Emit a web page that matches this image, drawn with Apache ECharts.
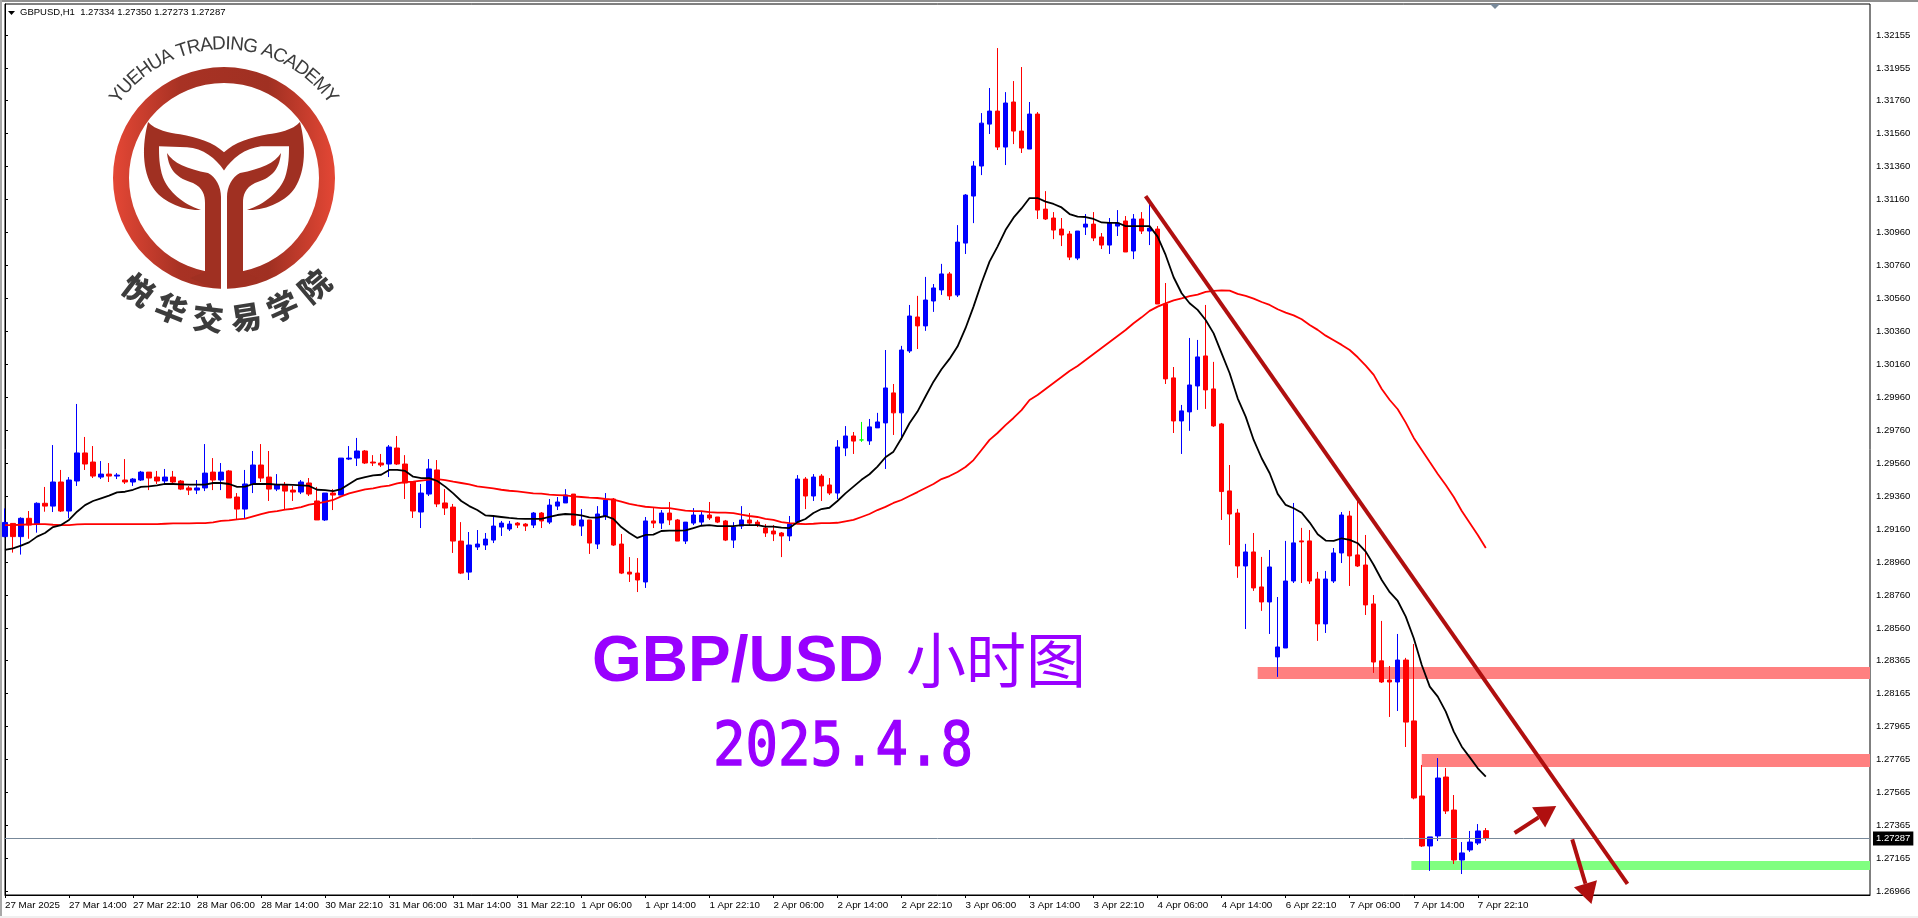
<!DOCTYPE html>
<html lang="en">
<head>
    <meta charset="UTF-8">
    <title>GBPUSD,H1</title>
    <script src="https://cdn.jsdelivr.net/npm/echarts@6/dist/echarts.min.js"></script>
    <style>
        html, body { margin: 0; padding: 0; background: #fff; overflow: hidden; }
        #chart { width: 1918px; height: 918px; }
    </style>
</head>
<body>
    <div id="chart"></div>
<script>
    var tickLabels = ['27 Mar 2025','27 Mar 14:00','27 Mar 22:10','28 Mar 06:00','28 Mar 14:00','30 Mar 22:10','31 Mar 06:00','31 Mar 14:00','31 Mar 22:10','1 Apr 06:00','1 Apr 14:00','1 Apr 22:10','2 Apr 06:00','2 Apr 14:00','2 Apr 22:10','3 Apr 06:00','3 Apr 14:00','3 Apr 22:10','4 Apr 06:00','4 Apr 14:00','6 Apr 22:10','7 Apr 06:00','7 Apr 14:00','7 Apr 22:10'];
    var priceTicks = [1.32155,1.31955,1.31760,1.31560,1.31360,1.31160,1.30960,1.30760,1.30560,1.30360,1.30160,1.29960,1.29760,1.29560,1.29360,1.29160,1.28960,1.28760,1.28560,1.28365,1.28165,1.27965,1.27765,1.27565,1.27365,1.27165,1.26966];
    var lastPrice = 1.27287;

    var opens = [
        1.29116,1.29196,1.29116,1.29227,1.29192,1.29318,1.29301,1.29447,1.29271,1.29453,
        1.29623,1.29568,1.29477,1.29495,1.29483,1.29459,1.29447,1.29459,1.29507,1.29477,
        1.29453,1.29477,1.29453,1.29411,1.29398,1.29411,1.29507,1.29459,1.29514,1.29356,
        1.29283,1.29435,1.29550,1.29477,1.29404,1.29429,1.29398,1.29386,1.29441,1.29332,
        1.29217,1.29380,1.29368,1.29586,1.29592,1.29635,1.29568,1.29562,1.29556,1.29653,
        1.29556,1.29447,1.29265,1.29374,1.29520,1.29320,1.29295,1.29089,1.28901,1.29053,
        1.29065,1.29095,1.29174,1.29162,1.29198,1.29192,1.29186,1.29259,1.29204,1.29301,
        1.29320,1.29374,1.29180,1.29217,1.29071,1.29241,1.29344,1.29071,1.28901,1.28895,
        1.28841,1.29211,1.29198,1.29259,1.29217,1.29089,1.29198,1.29204,1.29247,1.29235,
        1.29211,1.29095,1.29180,1.29217,1.29204,1.29168,1.29150,1.29138,1.29120,1.29204,
        1.29465,1.29362,1.29483,1.29429,1.29380,1.29653,1.29726,1.29702,1.29696,1.29775,
        1.29805,1.29987,1.29866,1.30241,1.30447,1.30393,1.30544,1.30611,1.30708,1.30580,
        1.30895,1.31180,1.31362,1.31616,1.31695,1.31477,1.31750,1.31574,1.31465,1.31677,
        1.31101,1.31047,1.30980,1.30950,1.30804,1.30992,1.31010,1.30932,1.30883,1.30998,
        1.31029,1.30847,1.31041,1.30968,1.30980,1.30526,1.30078,1.29817,1.29872,1.30029,
        1.30211,1.30011,1.29799,1.29393,1.29259,1.28938,1.29023,1.28811,1.28720,1.28387,
        1.28441,1.28847,1.29090,1.29090,1.28859,1.28587,1.28847,1.29017,1.29241,1.29005,
        1.28944,1.28708,1.28363,1.28247,1.28235,1.28368,1.27999,1.27544,1.27241,1.27302,
        1.27659,1.27459,1.27156,1.27217,1.27259,1.27334
    ];
    var closes = [
        1.29202,1.29116,1.29227,1.29186,1.29318,1.29301,1.29447,1.29271,1.29459,1.29623,
        1.29556,1.29483,1.29495,1.29483,1.29489,1.29447,1.29465,1.29507,1.29471,1.29453,
        1.29477,1.29447,1.29404,1.29398,1.29411,1.29501,1.29459,1.29507,1.29350,1.29283,
        1.29435,1.29550,1.29471,1.29404,1.29429,1.29392,1.29386,1.29447,1.29374,1.29217,
        1.29380,1.29368,1.29592,1.29592,1.29635,1.29562,1.29562,1.29550,1.29659,1.29556,
        1.29441,1.29271,1.29380,1.29526,1.29314,1.29289,1.29089,1.28895,1.29065,1.29071,
        1.29101,1.29180,1.29198,1.29192,1.29186,1.29180,1.29259,1.29211,1.29307,1.29326,
        1.29368,1.29186,1.29217,1.29077,1.29253,1.29338,1.29065,1.28895,1.28889,1.28853,
        1.29211,1.29198,1.29259,1.29217,1.29089,1.29204,1.29247,1.29247,1.29229,1.29204,
        1.29095,1.29174,1.29217,1.29198,1.29186,1.29138,1.29132,1.29120,1.29192,1.29465,
        1.29362,1.29477,1.29423,1.29380,1.29659,1.29726,1.29695,1.29702,1.29781,1.29811,
        1.30017,1.29866,1.30247,1.30453,1.30393,1.30550,1.30623,1.30708,1.30575,1.30901,
        1.31186,1.31362,1.31622,1.31695,1.31477,1.31744,1.31574,1.31471,1.31677,1.31095,
        1.31041,1.30974,1.30944,1.30810,1.30968,1.31010,1.30926,1.30883,1.31016,1.31016,
        1.30841,1.31041,1.30968,1.30986,1.30526,1.30072,1.29817,1.29878,1.30035,1.30205,
        1.30005,1.29787,1.29389,1.29253,1.28938,1.29023,1.28805,1.28720,1.28932,1.28447,
        1.28847,1.29078,1.29084,1.28847,1.28587,1.28859,1.29017,1.29247,1.28999,1.28938,
        1.28702,1.28356,1.28235,1.28235,1.28368,1.27992,1.27532,1.27241,1.27296,1.27653,
        1.27453,1.27156,1.27199,1.27265,1.27332,1.27287
    ];
    var highs = [
        1.29287,1.29196,1.29233,1.29271,1.29324,1.29417,1.29671,1.29520,1.29477,1.29920,
        1.29720,1.29665,1.29574,1.29562,1.29501,1.29586,1.29471,1.29514,1.29507,1.29514,
        1.29526,1.29514,1.29459,1.29423,1.29459,1.29677,1.29592,1.29562,1.29520,1.29380,
        1.29520,1.29635,1.29677,1.29635,1.29495,1.29447,1.29423,1.29459,1.29471,1.29417,
        1.29380,1.29404,1.29592,1.29665,1.29714,1.29641,1.29610,1.29617,1.29671,1.29726,
        1.29610,1.29447,1.29435,1.29586,1.29580,1.29404,1.29314,1.29204,1.29144,1.29156,
        1.29138,1.29235,1.29211,1.29211,1.29204,1.29198,1.29265,1.29265,1.29344,1.29356,
        1.29404,1.29374,1.29283,1.29217,1.29301,1.29380,1.29350,1.29132,1.28992,1.28986,
        1.29235,1.29289,1.29277,1.29326,1.29223,1.29204,1.29289,1.29271,1.29326,1.29235,
        1.29217,1.29204,1.29301,1.29259,1.29217,1.29192,1.29186,1.29144,1.29241,1.29489,
        1.29477,1.29495,1.29495,1.29471,1.29701,1.29786,1.29750,1.29811,1.29829,1.29866,
        1.30247,1.30041,1.30272,1.30520,1.30575,1.30690,1.30647,1.30769,1.30720,1.31004,
        1.31192,1.31392,1.31683,1.31835,1.32077,1.31810,1.31877,1.31962,1.31750,1.31689,
        1.31210,1.31083,1.31047,1.30968,1.30968,1.31071,1.31083,1.30956,1.31047,1.31095,
        1.31059,1.31071,1.31083,1.31132,1.30998,1.30653,1.30144,1.29914,1.30320,1.30308,
        1.30520,1.30175,1.29805,1.29550,1.29284,1.29072,1.29138,1.28993,1.29035,1.28750,
        1.29090,1.29320,1.29169,1.29156,1.28902,1.28908,1.29047,1.29265,1.29272,1.29338,
        1.29126,1.28762,1.28605,1.28332,1.28526,1.28381,1.28465,1.27732,1.27296,1.27774,
        1.27714,1.27550,1.27265,1.27332,1.27374,1.27350
    ];
    var lows = [
        1.29112,1.29019,1.29007,1.29103,1.29140,1.29267,1.29265,1.29265,1.29227,1.29423,
        1.29520,1.29471,1.29465,1.29447,1.29465,1.29435,1.29423,1.29453,1.29398,1.29435,
        1.29435,1.29429,1.29398,1.29368,1.29374,1.29392,1.29398,1.29398,1.29350,1.29223,
        1.29229,1.29380,1.29447,1.29332,1.29392,1.29283,1.29332,1.29374,1.29362,1.29217,
        1.29211,1.29277,1.29368,1.29580,1.29544,1.29556,1.29544,1.29538,1.29477,1.29550,
        1.29344,1.29229,1.29168,1.29362,1.29295,1.29247,1.29017,1.28889,1.28853,1.29035,
        1.29035,1.29077,1.29120,1.29150,1.29168,1.29150,1.29168,1.29168,1.29192,1.29277,
        1.29320,1.29180,1.29120,1.29011,1.29041,1.29217,1.29059,1.28889,1.28841,1.28780,
        1.28805,1.29168,1.29162,1.29186,1.29089,1.29071,1.29186,1.29186,1.29217,1.29198,
        1.29089,1.29047,1.29162,1.29186,1.29174,1.29114,1.29089,1.28992,1.29089,1.29192,
        1.29283,1.29332,1.29332,1.29368,1.29344,1.29604,1.29617,1.29690,1.29672,1.29775,
        1.29526,1.29732,1.29702,1.30229,1.30253,1.30363,1.30478,1.30581,1.30550,1.30568,
        1.30829,1.31016,1.31307,1.31556,1.31459,1.31368,1.31495,1.31441,1.31465,1.31041,
        1.31035,1.30919,1.30877,1.30792,1.30792,1.30944,1.30907,1.30859,1.30829,1.30938,
        1.30841,1.30798,1.30950,1.30883,1.30526,1.30041,1.29744,1.29617,1.29757,1.29884,
        1.29890,1.29781,1.29217,1.29065,1.28866,1.28556,1.28787,1.28666,1.28526,1.28266,
        1.28441,1.28835,1.28835,1.28829,1.28484,1.28532,1.28835,1.28956,1.28817,1.28932,
        1.28641,1.28290,1.28229,1.28023,1.28059,1.27841,1.27524,1.27235,1.27090,1.27271,
        1.27435,1.27132,1.27071,1.27205,1.27247,1.27273
    ];
    var blackMa = [
        1.29035,1.29045,1.29061,1.29081,1.29116,1.29138,1.29174,1.29186,1.29217,1.29267,
        1.29307,1.29332,1.29348,1.29364,1.29384,1.29388,1.29400,1.29417,1.29421,1.29427,
        1.29435,1.29435,1.29433,1.29431,1.29431,1.29431,1.29441,1.29441,1.29435,1.29417,
        1.29419,1.29435,1.29435,1.29435,1.29431,1.29431,1.29429,1.29427,1.29423,1.29400,
        1.29398,1.29392,1.29404,1.29435,1.29465,1.29477,1.29487,1.29491,1.29520,1.29520,
        1.29514,1.29479,1.29471,1.29471,1.29453,1.29419,1.29378,1.29332,1.29301,1.29277,
        1.29245,1.29241,1.29235,1.29229,1.29225,1.29223,1.29223,1.29223,1.29235,1.29247,
        1.29253,1.29251,1.29245,1.29233,1.29231,1.29241,1.29223,1.29174,1.29138,1.29108,
        1.29126,1.29128,1.29150,1.29152,1.29152,1.29154,1.29168,1.29182,1.29186,1.29180,
        1.29180,1.29180,1.29186,1.29186,1.29186,1.29176,1.29176,1.29170,1.29168,1.29204,
        1.29223,1.29259,1.29283,1.29291,1.29332,1.29378,1.29419,1.29460,1.29494,1.29540,
        1.29597,1.29631,1.29712,1.29803,1.29874,1.29965,1.30055,1.30130,1.30193,1.30268,
        1.30379,1.30510,1.30653,1.30783,1.30874,1.30974,1.31049,1.31105,1.31168,1.31168,
        1.31146,1.31132,1.31111,1.31071,1.31055,1.31053,1.31041,1.31020,1.31018,1.31018,
        1.30998,1.30998,1.30998,1.30998,1.30934,1.30823,1.30688,1.30591,1.30530,1.30490,
        1.30429,1.30348,1.30227,1.30106,1.29954,1.29843,1.29702,1.29591,1.29500,1.29375,
        1.29308,1.29288,1.29261,1.29201,1.29130,1.29092,1.29090,1.29106,1.29096,1.29076,
        1.29025,1.28944,1.28853,1.28779,1.28726,1.28631,1.28500,1.28338,1.28207,1.28146,
        1.28055,1.27934,1.27843,1.27778,1.27712,1.27661
    ];
    var redMa = [
        1.29186,1.29186,1.29188,1.29190,1.29192,1.29192,1.29188,1.29186,1.29186,1.29190,
        1.29192,1.29192,1.29192,1.29192,1.29192,1.29192,1.29192,1.29192,1.29192,1.29192,
        1.29194,1.29196,1.29196,1.29196,1.29198,1.29198,1.29202,1.29211,1.29215,1.29221,
        1.29225,1.29239,1.29253,1.29265,1.29271,1.29279,1.29285,1.29295,1.29310,1.29318,
        1.29326,1.29338,1.29360,1.29378,1.29390,1.29402,1.29408,1.29419,1.29425,1.29439,
        1.29447,1.29449,1.29455,1.29461,1.29465,1.29459,1.29449,1.29441,1.29433,1.29421,
        1.29415,1.29408,1.29400,1.29394,1.29390,1.29384,1.29378,1.29376,1.29370,1.29368,
        1.29366,1.29360,1.29356,1.29352,1.29350,1.29344,1.29340,1.29328,1.29314,1.29305,
        1.29297,1.29293,1.29289,1.29289,1.29281,1.29273,1.29271,1.29271,1.29265,1.29261,
        1.29261,1.29259,1.29249,1.29241,1.29235,1.29223,1.29217,1.29204,1.29198,1.29194,
        1.29192,1.29194,1.29198,1.29198,1.29200,1.29209,1.29217,1.29235,1.29253,1.29277,
        1.29296,1.29320,1.29338,1.29362,1.29386,1.29411,1.29435,1.29465,1.29483,1.29508,
        1.29538,1.29580,1.29641,1.29702,1.29744,1.29792,1.29835,1.29883,1.29944,1.29974,
        1.30011,1.30047,1.30083,1.30120,1.30150,1.30186,1.30223,1.30259,1.30295,1.30332,
        1.30368,1.30409,1.30445,1.30484,1.30510,1.30530,1.30548,1.30560,1.30573,1.30583,
        1.30599,1.30605,1.30609,1.30607,1.30587,1.30575,1.30558,1.30538,1.30520,1.30494,
        1.30474,1.30457,1.30433,1.30399,1.30369,1.30334,1.30306,1.30278,1.30247,1.30203,
        1.30152,1.30096,1.30011,1.29944,1.29888,1.29807,1.29714,1.29641,1.29568,1.29496,
        1.29429,1.29356,1.29271,1.29199,1.29126,1.29047
    ];
    // bar index from, price, bar index to, price
    var trendLine = [142.5,1.31180,202.7,1.27011];
    var arrowUp = [188.6,1.27320,193.8,1.27484];
    var arrowDown = [195.8,1.27281,198.2,1.26890];
    var zoneTop = [156.5,1.28326,233,1.28253];
    var zoneMid = [177,1.27799,233,1.27720];
    var zoneLow = [175.7,1.27150,233,1.27096];

    var barCount = 234;
    var categories = [];
    for (var i = 0; i < barCount; i++) {
        categories.push(i % 8 === 0 && tickLabels[i / 8] ? tickLabels[i / 8] : '');
    }
    var candles = opens.map(function (o, i) {
        return [o, closes[i], lows[i], highs[i]];
    });

    var smallFont = '"Liberation Sans",sans-serif';
    var brick = '#a03022';
    var cx = 224, cy = 178;

    // logo shapes, drawn by a custom series because the graphic component has no path
    var logoPath = 'M148 122C155 130 170 133 180 134C197 137 214 142 224 152C234 142 251 137 268 134C278 133 293 130 300 122C306 145 306 170 295 187C287 200 265 210 247 209C265 204 280 190 285 177C289 165 289 155 289 146L261 146C245 148 232 158 224 170C216 158 203 148 187 147L159 146C159 155 159 165 163 177C168 190 183 204 201 209C183 210 161 200 153 187C142 170 142 145 148 122Z';
    var stemLeft = 'M167 153C173 163 187 169 208 173C216 177 221 187 221 197L221 280C221 285 217 288 213 288L190 278L205 272L205 203C205 195 203 188 193 183C178 178 169 172 167 153Z';
    var stemRight = 'M281 153C275 163 261 169 240 173C232 177 227 187 227 197L227 280C227 285 231 288 235 288L258 278L243 272L243 203C243 195 245 188 255 183C270 178 279 172 281 153Z';

    function pathEl(d, x, y, w, h) {
        return {type: 'path', shape: {pathData: d, x: x, y: y, width: w, height: h, layout: 'cover'}, style: {fill: brick}};
    }
    function drawLogo() {
        return {type: 'group', children: [
            {type: 'ring', shape: {cx: cx, cy: cy, r: 111, r0: 95}, style: {
                fill: new echarts.graphic.LinearGradient(0, 0, 1, 0, [
                    {offset: 0, color: '#e44735'}, {offset: 0.3, color: '#a83224'},
                    {offset: 0.7, color: '#a03022'}, {offset: 1, color: '#e44735'}
                ])
            }},
            pathEl(logoPath, 144, 122, 160, 88),
            pathEl(stemLeft, 167, 153, 54, 135),
            pathEl(stemRight, 227, 153, 54, 135),
            {type: 'rect', shape: {x: 221, y: 268, width: 6, height: 24}, style: {fill: '#fff'}}
        ]};
    }

    var graphics = [
        {type: 'rect', silent: true, shape: {x: 0, y: 0, width: 1918, height: 2}, style: {fill: '#8f8f8f'}},
        {type: 'rect', silent: true, shape: {x: 0, y: 0, width: 2, height: 916}, style: {fill: '#a8a8a8'}},
        {type: 'rect', silent: true, shape: {x: 0, y: 916, width: 1918, height: 2}, style: {fill: '#f0f0f0'}},
        {type: 'polygon', silent: true, z: 20, shape: {points: [[8, 11], [15, 11], [11.5, 15]]}, style: {fill: '#000'}},
        {type: 'polygon', silent: true, z: 20, shape: {points: [[1490, 4], [1500, 4], [1495, 9]]}, style: {fill: '#778899'}}
    ];

    // curved logo texts, one real text element per letter
    var measure = document.createElement('canvas').getContext('2d');
    var arcFont = '19px "Liberation Sans"';
    measure.font = arcFont;
    var arcText = 'YUEHUA TRADING ACADEMY';
    var arcWidth = measure.measureText(arcText).width;
    var arcSpan = 110, acc = 0;
    arcText.split('').forEach(function (ch) {
        var w = measure.measureText(ch).width;
        var rad = (-arcSpan / 2 + arcSpan * (acc + w / 2) / arcWidth) * Math.PI / 180;
        acc += w;
        graphics.push({
            type: 'text', silent: true, z: 20,
            x: cx + 134 * Math.sin(rad), y: cy - 134 * Math.cos(rad), rotation: -rad,
            style: {text: ch, font: arcFont, fill: '#3c3c3c', textAlign: 'center', textVerticalAlign: 'middle'}
        });
    });
    '悦华交易学院'.split('').forEach(function (ch, i) {
        var rad = (37.5 - i * 15.5) * Math.PI / 180;
        graphics.push({
            type: 'text', silent: true, z: 20,
            x: cx - 141 * Math.sin(rad), y: cy + 141 * Math.cos(rad), rotation: -rad,
            style: {text: ch, font: '900 31px "Noto Sans CJK SC"', fill: '#3c3c3c', textAlign: 'center', textVerticalAlign: 'middle'}
        });
    });
    graphics.push({
        type: 'text', silent: true, z: 20, x: 713, y: 749, scaleY: 1.13,
        style: {text: '2025.4.8', font: '54px "DejaVu Sans Mono"', fill: '#9900ff', stroke: '#9900ff', lineWidth: 1.2, textVerticalAlign: 'middle'}
    });

    function drawLine(params, api) {
        var a = api.coord([api.value(0), api.value(1)]);
        var b = api.coord([api.value(2), api.value(3)]);
        var head = api.value(4);
        var out = [{
            type: 'line',
            shape: {x1: a[0], y1: a[1], x2: b[0], y2: b[1]},
            style: {stroke: '#b00f0f', lineWidth: 4}
        }];
        if (head) {
            var ang = Math.atan2(b[1] - a[1], b[0] - a[0]);
            var back = [b[0] - 21 * Math.cos(ang), b[1] - 21 * Math.sin(ang)];
            out[0].shape.x2 = back[0];
            out[0].shape.y2 = back[1];
            out.push({
                type: 'polygon',
                shape: {points: [b,
                    [back[0] - 12 * Math.sin(ang), back[1] + 12 * Math.cos(ang)],
                    [back[0] + 12 * Math.sin(ang), back[1] - 12 * Math.cos(ang)]]},
                style: {fill: '#b00f0f'}
            });
        }
        return {type: 'group', children: out};
    }
    function drawZone(params, api) {
        var a = api.coord([api.value(0), api.value(1)]);
        var b = api.coord([api.value(2), api.value(3)]);
        return {
            type: 'rect',
            shape: {x: a[0], y: a[1], width: b[0] - a[0], height: b[1] - a[1]},
            style: {fill: params.dataIndex === 2 ? '#80ff80' : '#ff8080'}
        };
    }

    var chart = echarts.init(document.getElementById('chart'));
    chart.setOption({
        animation: false,
        backgroundColor: '#ffffff',
        title: [
            {text: 'GBPUSD,H1  1.27334 1.27350 1.27273 1.27287', left: 20, top: 7, padding: 0,
                textStyle: {fontFamily: smallFont, fontSize: 9.5, fontWeight: 'normal', color: '#000'}},
            {text: 'GBP/USD', left: 592, top: 631, padding: 0,
                textStyle: {fontFamily: '"Liberation Sans"', fontSize: 64, fontWeight: 'bold', color: '#9900ff'}},
            {text: '小时图', left: 906, top: 630, padding: 0,
                textStyle: {fontFamily: '"Noto Sans CJK SC"', fontSize: 60, fontWeight: 'normal', color: '#9900ff'}}
        ],
        graphic: graphics,
        grid: {left: 5, top: 4, right: 48, bottom: 23, show: true, borderColor: '#000', borderWidth: 1, backgroundColor: '#fff'},
        xAxis: [{
            type: 'category',
            data: categories,
            boundaryGap: false,
            axisLine: {lineStyle: {color: '#000'}},
            axisTick: {alignWithLabel: true, length: 3, lineStyle: {color: '#000'},
                interval: function (i) { return i % 8 === 0 && i <= 184; }},
            axisLabel: {interval: function (i) { return i % 8 === 0 && i <= 184; },
                align: 'left', margin: 5, color: '#000', fontFamily: smallFont, fontSize: 9.8,
                hideOverlap: false},
            splitLine: {show: false}
        }, {
            type: 'value', show: false, min: 0, max: barCount - 1
        }],
        yAxis: {
            type: 'value',
            position: 'right',
            min: 1.26944,
            max: 1.32344,
            axisLine: {show: true, lineStyle: {color: '#000'}},
            axisTick: {show: true, length: 3, customValues: priceTicks, lineStyle: {color: '#000'}},
            axisLabel: {customValues: priceTicks, margin: 6, color: '#000', fontFamily: smallFont, fontSize: 9.5,
                formatter: function (v) { return v.toFixed(5); }},
            splitLine: {show: false}
        },
        series: [
            {
                type: 'custom', coordinateSystem: 'none', z: 1, silent: true,
                renderItem: drawLogo,
                data: [0]
            },
            {
                type: 'custom', xAxisIndex: 1, z: 1, silent: true,
                encode: {x: [0, 2], y: [1, 3]},
                renderItem: drawZone,
                data: [zoneTop, zoneMid, zoneLow]
            },
            {
                type: 'candlestick', name: 'GBPUSD,H1', z: 2,
                barWidth: 5,
                data: candles,
                itemStyle: {color: '#0000ff', color0: '#ff0000', borderColor: '#0000ff', borderColor0: '#ff0000', borderColorDoji: '#00ff00', borderWidth: 1}
            },
            {
                type: 'line', name: 'MA slow', z: 3, data: redMa, symbol: 'none', silent: true,
                lineStyle: {color: '#ff0000', width: 1.8},
                markLine: {
                    silent: true, symbol: 'none', animation: false, precision: 5,
                    lineStyle: {color: '#778899', width: 1, type: 'solid'},
                    label: {position: 'end', distance: 3, formatter: function () { return lastPrice.toFixed(5); },
                        backgroundColor: '#000', color: '#fff', fontFamily: smallFont, fontSize: 9.5, padding: [2, 3]},
                    data: [{yAxis: lastPrice}]
                }
            },
            {type: 'line', name: 'MA fast', z: 4, data: blackMa, symbol: 'none', silent: true, lineStyle: {color: '#000000', width: 1.8}},
            {
                type: 'custom', xAxisIndex: 1, z: 5, silent: true, clip: false,
                encode: {x: [0, 2], y: [1, 3]},
                renderItem: drawLine,
                data: [trendLine.concat([0]), arrowUp.concat([1]), arrowDown.concat([1])]
            }
        ]
    });
    window.onresize = chart.resize;
</script>
</body>
</html>
